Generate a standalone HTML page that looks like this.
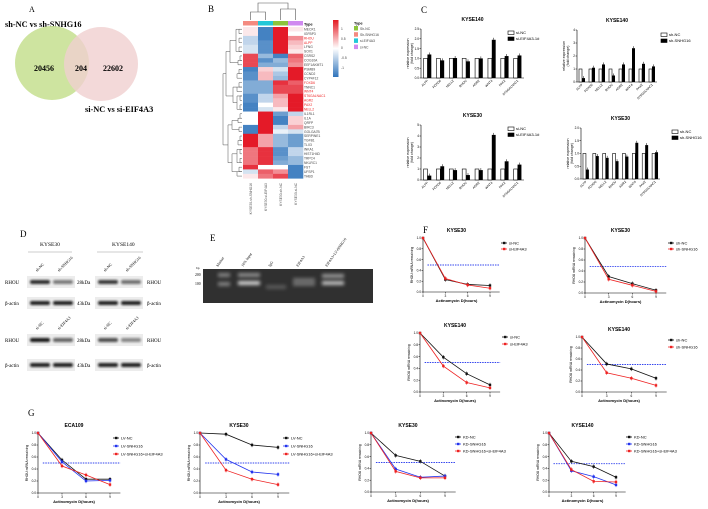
<!DOCTYPE html>
<html><head><meta charset="utf-8">
<style>
html,body{margin:0;padding:0;background:#fff;}
svg{display:block;}
text{font-family:"Liberation Sans",Arial,sans-serif;}
.serif{font-family:"Liberation Serif","Times New Roman",serif;}
</style></head>
<body>
<svg id="fig" width="708" height="509" viewBox="0 0 708 509" xmlns="http://www.w3.org/2000/svg">
<defs>
<filter id="blur1" x="-20%" y="-50%" width="140%" height="200%"><feGaussianBlur stdDeviation="1.1"/></filter>
<filter id="blur2" x="-20%" y="-80%" width="140%" height="260%"><feGaussianBlur stdDeviation="1.8"/></filter>
<linearGradient id="cbar" x1="0" y1="0" x2="0" y2="1">
<stop offset="0" stop-color="#e41a22"/><stop offset="0.5" stop-color="#ffffff"/><stop offset="1" stop-color="#2f74bb"/>
</linearGradient>
</defs>
<rect width="708" height="509" fill="#fff"/>
<!-- Panel A -->
<text x="29" y="12" class="serif" font-size="8">A</text>
<text x="5" y="27" class="serif" font-size="8.3" font-weight="bold">sh-NC vs sh-SNHG16</text>
<circle cx="52" cy="63" r="37" fill="#c5df8f" opacity="0.85"/>
<circle cx="101" cy="64" r="37" fill="#f0cfcf" opacity="0.8"/>
<text x="44" y="71" class="serif" font-size="8" font-weight="bold" text-anchor="middle">20456</text>
<text x="81" y="71" class="serif" font-size="8" font-weight="bold" text-anchor="middle">204</text>
<text x="113" y="71" class="serif" font-size="8" font-weight="bold" text-anchor="middle">22602</text>
<text x="85" y="112" class="serif" font-size="8.3" font-weight="bold">si-NC vs si-EIF4A3</text>
<!-- Panel letters -->
<text x="208" y="12" class="serif" font-size="9">B</text>
<text x="421" y="13" class="serif" font-size="9">C</text>
<text x="20" y="237" class="serif" font-size="9">D</text>
<text x="210" y="241" class="serif" font-size="9">E</text>
<text x="423" y="233" class="serif" font-size="9">F</text>
<text x="28" y="416" class="serif" font-size="9">G</text>
<g id="root"></g>
</svg>
<script>
// ---------- DATA ----------
const heatGenes = ["MEOX1","IGFBP3","RHOU","ALPP","LFNG","SOX1","CSRS2","COG10A","EEF1AKMT1","PSMB9","CCND2","CYP4F12","FOXD6","TNNC1","WNT4","ST6GALNAC1","AGR2","PAX2","NELL2","IL1RL1","IL1A","QRFP","BIRC3","GOLGA7B","SERPINE1","TGFB1","TLX3","INKA1","HIST1H4D","TRPC4","NKLRC1","FST","UFSP1","THBD"];
const heatRedGenes = ["RHOU","ALPP","FOXD6","WNT4","ST6GALNAC1","AGR2","PAX2","NELL2"];
const heatCol1 = [0.1,0.1,-0.3,-0.3,-0.2,-0.2,0.8,0.8,0.8,-0.9,-0.8,-0.8,-0.6,-0.6,-0.6,-0.8,-0.8,-0.9,-0.9,0,0,0,-0.9,-0.9,1,1,1,0.6,0.6,0.6,0.6,0.9,-0.2,0.1];
const heatCol2 = [-0.9,-0.9,-0.9,-0.8,-0.8,-0.8,-0.5,-0.8,-0.6,0.2,0.3,0.3,-0.6,-0.6,-0.6,-0.3,-0.3,0,-0.2,1,1,1,1,1,0.4,0.4,0.4,0.9,0.9,0.9,0.9,0,0.7,0.6];
const heatCol3 = [1,1,1,1,1,1,-0.9,-0.5,-0.6,-0.2,-0.4,-0.5,0.9,0.8,0.8,0.4,0.3,0.3,0.1,-0.7,-0.9,-0.9,-0.3,-0.1,-0.5,-0.5,-0.5,-0.8,-0.8,-0.7,-0.6,0,0.5,0.8];
const heatCol4 = [0.1,0,0.5,0.3,0.2,0.1,0.7,0.6,0.5,1,1,1,0.7,0.8,0.8,1,1,1,1,-0.3,0.2,0.2,0.4,-0.2,-0.7,-0.7,-0.7,-0.3,-0.3,-0.5,-0.5,-0.9,-0.9,-0.9];

const barGenes = ["ALPP","FOXD6","NELL2","RHOU","AGR2","WNT4","PAX2","ST6GALNAC1"];
const barC1Ctrl = [1,1,1,1,1,1,1,1];
const barC1Treat = [1.2,0.9,1.02,0.85,1.0,1.95,1.12,1.15];
const barC2Ctrl = [1,1,1,1,1,1,1,1];
const barC2Treat = [0.3,1.1,1.35,0.5,1.35,2.6,1.4,1.2];
const barC3Ctrl = [1,1,1,1,1,1,1,1];
const barC3Treat = [0.4,1.25,0.9,0.45,0.9,4.1,1.7,1.4];
const barC4Ctrl = [1,1,1,1,1,1,1,1];
const barC4Treat = [0.37,0.9,0.83,0.7,0.88,1.42,1.33,1.05];

const hours = [0,3,6,9];
const yTicks = [0,0.2,0.4,0.6,0.8,1.0];
const f1NC = [1,0.23,0.14,0.12];
const f1KD = [1,0.25,0.13,0.07];
const f2NC = [1,0.30,0.17,0.05];
const f2KD = [1,0.25,0.14,0.03];
const f3NC = [1,0.59,0.31,0.12];
const f3KD = [1,0.44,0.16,0.07];
const f4NC = [1,0.51,0.42,0.25];
const f4KD = [1,0.35,0.25,0.12];
const g1NC = [1,0.55,0.23,0.23];
const g1KD = [1,0.52,0.20,0.21];
const g1Combo = [1,0.45,0.30,0.14];
const g2NC = [1,0.98,0.80,0.76];
const g2KD = [1,0.56,0.35,0.31];
const g2Combo = [1,0.38,0.23,0.14];
const g3NC = [1,0.62,0.52,0.27];
const g3KD = [1,0.39,0.25,0.27];
const g3Combo = [1,0.35,0.24,0.24];
const g4NC = [1,0.52,0.43,0.25];
const g4KD = [1,0.36,0.26,0.12];
const g4Combo = [1,0.38,0.18,0.17];

// ---------- HELPERS ----------
const NS = "http://www.w3.org/2000/svg";
const root = document.getElementById('root');
function mk(tag, attrs, parent){
  const e = document.createElementNS(NS, tag);
  for (const k in attrs) e.setAttribute(k, attrs[k]);
  (parent||root).appendChild(e);
  return e;
}
function txt(x,y,s,size,parent,extra){
  const t = mk('text', Object.assign({x:x,y:y,'font-size':size}, extra||{}), parent);
  t.textContent = s;
  return t;
}

// ---------- HEATMAP ----------
function heatColor(v){
  const w=[255,255,255];
  const c = v>=0 ? [228,26,40] : [47,116,187];
  const a = Math.min(1,Math.abs(v));
  const r = w.map((x,i)=>Math.round(x+(c[i]-x)*a));
  return 'rgb('+r.join(',')+')';
}
(function(){
  const g = mk('g',{});
  
  
  const hx=243, cw=15, hy=27, rh=4.45;
  const cols=[heatCol1,heatCol2,heatCol3,heatCol4];
  const annot=['#f48a80','#22c8d8','#8cc43c','#d08af0'];
  cols.forEach((col,ci)=>{
    const a = mk('rect',{x:hx+ci*cw,y:21,width:cw,height:4.5,fill:annot[ci]},g);
    
    
    col.forEach((v,ri)=>{
      const c = mk('rect',{x:hx+ci*cw,y:hy+ri*rh,width:cw+0.3,height:rh+0.3,fill:heatColor(v)},g);
      
      
    });
  });
  heatGenes.forEach((s,i)=>{
    const t = txt(304,hy+i*rh+3.4,s,3.3,g,{fill: heatRedGenes.includes(s)?'#e22':'#444'});
    
    
  });
  txt(304,25.5,'Type',3.8,g,{'font-weight':'bold'});
  const colNames=['KYSE30-sh-SNHG16','KYSE30-si-EIF4A3','KYSE30-sh-NC','KYSE30-si-NC'];
  colNames.forEach((s,i)=>{
    const t = txt(0,0,s,3.3,g,{fill:'#555','text-anchor':'end',transform:'translate('+(hx+i*cw+9)+',183) rotate(-90)'});
    
    
  });
  const cx=i=>hx+i*cw+cw/2;
  const p='M'+cx(0)+' 20 V12 H'+cx(1)+' V20 M'+cx(2)+' 20 V9 H'+cx(3)+' V20 M'+((cx(0)+cx(1))/2)+' 12 V3 H'+((cx(2)+cx(3))/2)+' V9';
  const d1 = mk('path',{d:p,fill:'none',stroke:'#555','stroke-width':0.6},g);
  
  
  const ry=i=>hy+i*rh+rh/2;
  let lp='';
  const br=(a,b,x)=>{lp+='M242 '+ry(a)+' H'+x+' V'+ry(b)+' H242 ';};
  br(0,1,239);br(2,3,239);br(4,5,239);br(0,5,236);
  br(6,7,240);br(7,8,238);
  br(9,10,239);br(10,11,237);br(12,13,239);br(13,14,237);br(15,16,240);br(17,18,240);br(15,18,237);
  br(19,20,240);br(20,21,238);br(22,23,239);
  br(24,25,240);br(25,26,238);br(27,28,240);br(29,30,240);br(27,30,237);br(31,32,239);br(32,33,237);
  lp+='M236 '+ry(2.5)+' H230 V'+ry(7.5)+' H238 ';
  lp+='M237 '+ry(13)+' H233 V'+ry(16.5)+' H237 ';
  lp+='M238 '+ry(20.5)+' H232 V'+ry(22.5)+' H239 ';
  lp+='M237 '+ry(28)+' H232 V'+ry(32)+' H237 ';
  lp+='M230 '+ry(5)+' H226 V'+ry(15)+' H233 ';
  lp+='M232 '+ry(21.5)+' H228 V'+ry(30)+' H232 ';
  lp+='M226 '+ry(10)+' H223 V'+ry(26)+' H228 ';
  const d2 = mk('path',{d:lp,fill:'none',stroke:'#555','stroke-width':0.5},g);
  
  
  const cb = mk('rect',{x:333,y:20,width:5.5,height:57,fill:'url(#cbar)'},g);
  
  
  [['1',30],['0.5',40],['0',49],['-0.5',59],['-1',69]].forEach(a=>txt(341,a[1],a[0],3.3,g,{fill:'#444'}));
  txt(354,24.5,'Type',3.8,g,{'font-weight':'bold'});
  const legs=[['Sh-NC','#8cc43c'],['Sh-SNHG16','#f48a80'],['si-EIF4A3','#22c8d8'],['si-NC','#d08af0']];
  legs.forEach((l,i)=>{
    const r = mk('rect',{x:354,y:26+i*6.2,width:4,height:4.5,fill:l[1]},g);
    
    
    txt(360,29.8+i*6.2,l[0],3.4,g,{fill:'#444'});
  });
})();

// ---------- BAR CHARTS ----------
function barChart(cfg, ctrl, treat){
  const g = mk('g',{});
  
  
  const ys=v=>cfg.bot-(v/cfg.ymax)*(cfg.bot-cfg.top);
  const gw=(cfg.right-cfg.ax)/barGenes.length;
  const bw=gw*0.3;
  txt((cfg.ax+cfg.right)/2,cfg.top-8,cfg.title,5,g,{'font-weight':'bold','text-anchor':'middle'});
  mk('line',{x1:cfg.ax,y1:cfg.top,x2:cfg.ax,y2:cfg.bot,stroke:'#000','stroke-width':0.6},g);
  mk('line',{x1:cfg.ax,y1:cfg.bot,x2:cfg.right,y2:cfg.bot,stroke:'#000','stroke-width':0.6},g);
  for(let v=0; v<=cfg.ymax+1e-9; v+=cfg.step){
    mk('line',{x1:cfg.ax-1.5,y1:ys(v),x2:cfg.ax,y2:ys(v),stroke:'#000','stroke-width':0.5},g);
    txt(cfg.ax-2,ys(v)+1.2,cfg.fmt(v),3.2,g,{'text-anchor':'end'});
  }
  txt(0,0,'relative  expression',3.6,g,{'text-anchor':'middle',transform:'translate('+(cfg.ax-12)+','+((cfg.top+cfg.bot)/2)+') rotate(-90)'});
  txt(0,0,'(fold change)',3.6,g,{'text-anchor':'middle',transform:'translate('+(cfg.ax-8)+','+((cfg.top+cfg.bot)/2)+') rotate(-90)'});
  barGenes.forEach((s,i)=>{
    const gx=cfg.ax+gw*i+gw*0.2;
    const b1 = mk('rect',{x:gx,y:ys(ctrl[i]),width:bw,height:cfg.bot-ys(ctrl[i]),fill:'#fff',stroke:'#000','stroke-width':0.6},g);
    
    
    const b2 = mk('rect',{x:gx+bw,y:ys(treat[i]),width:bw,height:cfg.bot-ys(treat[i]),fill:'#000'},g);
    
    
    mk('line',{x1:gx+bw*1.5,y1:ys(treat[i])-2,x2:gx+bw*1.5,y2:ys(treat[i]),stroke:'#000','stroke-width':0.5},g);
    txt(0,0,s,3.2,g,{'text-anchor':'end',transform:'translate('+(gx+bw+1)+','+(cfg.bot+3)+') rotate(-45)'});
  });
  [[cfg.leg1,'#fff'],[cfg.leg2,'#000']].forEach((l,i)=>{
    const r = mk('rect',{x:cfg.lx,y:cfg.ly+i*6-3,width:6,height:3.5,fill:l[1],stroke:'#000','stroke-width':0.6},g);
    
    
    txt(cfg.lx+8,cfg.ly+i*6,l[0],4,g);
  });
}
const f1=v=>v.toFixed(1), f0=v=>String(Math.round(v));
barChart({name:'bar-chart-kyse140-si',title:'KYSE140',ax:421,top:29,bot:78,right:524,ymax:2.5,step:0.5,fmt:f1,lx:508,ly:34,leg1:'si-NC',leg2:'si-EIF4A3-1#'},barC1Ctrl,barC1Treat);
barChart({name:'bar-chart-kyse140-sh',title:'KYSE140',ax:577,top:30,bot:82,right:657,ymax:4,step:1,fmt:f0,lx:661,ly:36,leg1:'sh-NC',leg2:'sh-SNHG16'},barC2Ctrl,barC2Treat);
barChart({name:'bar-chart-kyse30-si',title:'KYSE30',ax:421,top:125,bot:180,right:524,ymax:5,step:1,fmt:f0,lx:508,ly:130,leg1:'si-NC',leg2:'si-EIF4A3-1#'},barC3Ctrl,barC3Treat);
barChart({name:'bar-chart-kyse30-sh',title:'KYSE30',ax:581,top:128,bot:179,right:660,ymax:2.0,step:0.5,fmt:f1,lx:672,ly:133,leg1:'sh-NC',leg2:'sh-SNHG16'},barC4Ctrl,barC4Treat);

// ---------- WESTERN BLOTS ----------
(function(){
  const g = mk('g',{});
  
  
  txt(40,246,'KYSE30',5.5,g,{class:'serif'});
  txt(112,246,'KYSE140',5.5,g,{class:'serif'});
  mk('line',{x1:28,y1:252,x2:72,y2:252,stroke:'#999','stroke-width':0.6},g);
  mk('line',{x1:97,y1:252,x2:143,y2:252,stroke:'#999','stroke-width':0.6},g);
  const lanes=[[['sh-NC','sh-SNHG16'],['sh-NC','sh-SNHG16']],[['si-NC','si-EIF4A3'],['si-NC','si-EIF4A3']]];
  const rowsY=[[282,303],[340,365]];
  const labY=[272,330];
  const intens=[[[0.85,0.5],[0.8,0.55]],[[0.95,0.6],[0.7,0.45]]];
  [0,1].forEach(r=>{
    [[27,75],[95,143]].forEach((bx,b)=>{
      lanes[r][b].forEach((s,l)=>{
        txt(0,0,s,4,g,{class:'serif',transform:'translate('+(bx[0]+10+l*22)+','+labY[r]+') rotate(-45)'});
      });
      rowsY[r].forEach((yy,k)=>{
        const bg = mk('rect',{x:bx[0],y:yy-6,width:48,height:12,fill:'#ececec'},g);
        
        
        [0,1].forEach(l=>{
          const op = k===0 ? intens[r][b][l] : 0.9;
          const band = mk('rect',{x:bx[0]+3+l*23,y:yy-2,width:20,height:4,rx:2,fill:'#111',opacity:op,filter:'url(#blur1)'},g);
          
          
        });
      });
    });
    txt(5,rowsY[r][0]+2,'RHOU',5,g,{class:'serif'});
    txt(5,rowsY[r][1]+2,'β-actin',5,g,{class:'serif'});
    txt(77,rowsY[r][0]+2,'28kDa',5,g,{class:'serif'});
    txt(77,rowsY[r][1]+2,'43kDa',5,g,{class:'serif'});
    txt(147,rowsY[r][0]+2,'RHOU',5,g,{class:'serif'});
    txt(147,rowsY[r][1]+2,'β-actin',5,g,{class:'serif'});
  });
})();

// ---------- GEL ----------
(function(){
  const g = mk('g',{});
  
  
  const gel = mk('rect',{x:203,y:269,width:170,height:34,fill:'#303030'},g);
  
  
  const laneX=[224,249,276,304,333];
  const laneN=['Marker','10% Input','IgG','EIF4A3','EIF4A3+LV-SNHG16'];
  laneN.forEach((s,i)=>{txt(0,0,s,3.8,g,{class:'serif',transform:'translate('+(laneX[i]-6)+',267) rotate(-55)'});});
  txt(196,269,'bp',3.5,g,{class:'serif'});
  txt(195,276,'200',3.8,g,{class:'serif'});
  txt(195,285,'100',3.8,g,{class:'serif'});
  const bands=[[224,275,0.4,12],[224,284,0.4,12],[249,275,0.45,22],[249,283,0.8,22],[276,287,0.2,20],[304,280,0.3,22],[304,284,0.3,22],[333,276,0.5,22],[333,283,0.7,22]];
  bands.forEach(b=>{
    const e = mk('rect',{x:b[0]-b[3]/2,y:b[1]-2,width:b[3],height:4,fill:'#fff',opacity:b[2],filter:'url(#blur2)'},g);
    
    
  });
})();

// ---------- LINE CHARTS ----------
function lineChart(cfg, series){
  const g = mk('g',{});
  
  
  const xs=h=>cfg.x0+(h/9)*(cfg.x9-cfg.x0);
  const ys=v=>cfg.y0-v*(cfg.y0-cfg.y1);
  const xend=xs(10.3);
  txt((cfg.x0+cfg.x9)/2,cfg.y1-6,cfg.title,5,g,{'font-weight':'bold','text-anchor':'middle'});
  mk('line',{x1:cfg.x0,y1:cfg.y1-1,x2:cfg.x0,y2:cfg.y0,stroke:'#000','stroke-width':0.6},g);
  mk('line',{x1:cfg.x0,y1:cfg.y0,x2:xend,y2:cfg.y0,stroke:'#000','stroke-width':0.6},g);
  yTicks.forEach(v=>{
    mk('line',{x1:cfg.x0-1.5,y1:ys(v),x2:cfg.x0,y2:ys(v),stroke:'#000','stroke-width':0.5},g);
    txt(cfg.x0-2,ys(v)+1.2,v.toFixed(1),3.2,g,{'text-anchor':'end'});
  });
  hours.forEach(h=>{
    mk('line',{x1:xs(h),y1:cfg.y0,x2:xs(h),y2:cfg.y0+1.5,stroke:'#000','stroke-width':0.5},g);
    txt(xs(h),cfg.y0+5,String(h),3.2,g,{'text-anchor':'middle'});
  });
  txt((cfg.x0+cfg.x9)/2,cfg.y0+10,'Actinomycin D(hours)',4,g,{'font-weight':'bold','text-anchor':'middle'});
  txt(0,0,'RHOU  mRNA remaining',3.4,g,{'text-anchor':'middle',transform:'translate('+(cfg.x0-10)+','+((cfg.y0+cfg.y1)/2)+') rotate(-90)'});
  const dl = mk('line',{x1:xs(0.6),y1:ys(cfg.half),x2:xend,y2:ys(cfg.half),stroke:'#3344ee','stroke-width':0.9,'stroke-dasharray':'1.5,1'},g);
  
  
  series.forEach((s,si)=>{
    const pts = s.vals.map((v,i)=>xs(hours[i])+','+ys(v)).join(' ');
    const pl = mk('polyline',{points:pts,fill:'none',stroke:s.color,'stroke-width':0.8},g);
    
    
    s.vals.forEach((v,i)=>{
      const m = mk('rect',{x:xs(hours[i])-1.2,y:ys(v)-1.2,width:2.4,height:2.4,fill:s.color},g);
      
      
      if(i>0) mk('line',{x1:xs(hours[i]),y1:ys(v)-2.2,x2:xs(hours[i]),y2:ys(v)+2.2,stroke:s.color,'stroke-width':0.5},g);
    });
    const ly=cfg.ly+si*cfg.lgap;
    mk('line',{x1:cfg.lx,y1:ly,x2:cfg.lx+6,y2:ly,stroke:s.color,'stroke-width':0.8},g);
    const lm = mk('rect',{x:cfg.lx+2,y:ly-1.2,width:2.4,height:2.4,fill:s.color},g);
    
    
    txt(cfg.lx+8,ly+1.4,s.label,4,g);
  });
}
const K='#111', R='#ee2222', B='#2233ee';
lineChart({name:'line-chart-f-kyse30-si',title:'KYSE30',x0:423,x9:490,y0:292,y1:238,half:0.5,lx:501,ly:243,lgap:6},
  [{vals:f1NC,color:K,label:'si-NC',key:'si-nc'},{vals:f1KD,color:R,label:'si-EIF4A3',key:'si-eif4a3'}]);
lineChart({name:'line-chart-f-kyse30-sh',title:'KYSE30',x0:585,x9:656,y0:293,y1:238,half:0.48,lx:668,ly:243,lgap:6},
  [{vals:f2NC,color:K,label:'sh-NC',key:'sh-nc'},{vals:f2KD,color:R,label:'sh-SNHG16',key:'sh-snhg16'}]);
lineChart({name:'line-chart-f-kyse140-si',title:'KYSE140',x0:420,x9:490,y0:392,y1:333,half:0.5,lx:502,ly:337,lgap:7},
  [{vals:f3NC,color:K,label:'si-NC',key:'si-nc'},{vals:f3KD,color:R,label:'si-EIF4A3',key:'si-eif4a3'}]);
lineChart({name:'line-chart-f-kyse140-sh',title:'KYSE140',x0:582,x9:656,y0:392,y1:337,half:0.5,lx:668,ly:340,lgap:7},
  [{vals:f4NC,color:K,label:'sh-NC',key:'sh-nc'},{vals:f4KD,color:R,label:'sh-SNHG16',key:'sh-snhg16'}]);
lineChart({name:'line-chart-g-eca109',title:'ECA109',x0:38,x9:110,y0:493,y1:433,half:0.5,lx:113,ly:438,lgap:8},
  [{vals:g1NC,color:K,label:'LV-NC',key:'lv-nc'},{vals:g1KD,color:B,label:'LV-SNHG16',key:'lv-snhg16'},{vals:g1Combo,color:R,label:'LV-SNHG16+si-EIF4A3',key:'lv-combo'}]);
lineChart({name:'line-chart-g-kyse30-lv',title:'KYSE30',x0:200,x9:278,y0:493,y1:433,half:0.5,lx:283,ly:438,lgap:8},
  [{vals:g2NC,color:K,label:'LV-NC',key:'lv-nc'},{vals:g2KD,color:B,label:'LV-SNHG16',key:'lv-snhg16'},{vals:g2Combo,color:R,label:'LV-SNHG16+si-EIF4A3',key:'lv-combo'}]);
lineChart({name:'line-chart-g-kyse30-kd',title:'KYSE30',x0:371,x9:445,y0:492,y1:433,half:0.5,lx:455,ly:437,lgap:7},
  [{vals:g3NC,color:K,label:'KD-NC',key:'kd-nc'},{vals:g3KD,color:B,label:'KD-SNHG16',key:'kd-snhg16'},{vals:g3Combo,color:R,label:'KD-SNHG16+si-EIF4A3',key:'kd-combo'}]);
lineChart({name:'line-chart-g-kyse140-kd',title:'KYSE140',x0:549,x9:616,y0:492,y1:433,half:0.48,lx:626,ly:437,lgap:7},
  [{vals:g4NC,color:K,label:'KD-NC',key:'kd-nc'},{vals:g4KD,color:B,label:'KD-SNHG16',key:'kd-snhg16'},{vals:g4Combo,color:R,label:'KD-SNHG16+si-EIF4A3',key:'kd-combo'}]);
</script>
</body></html>
